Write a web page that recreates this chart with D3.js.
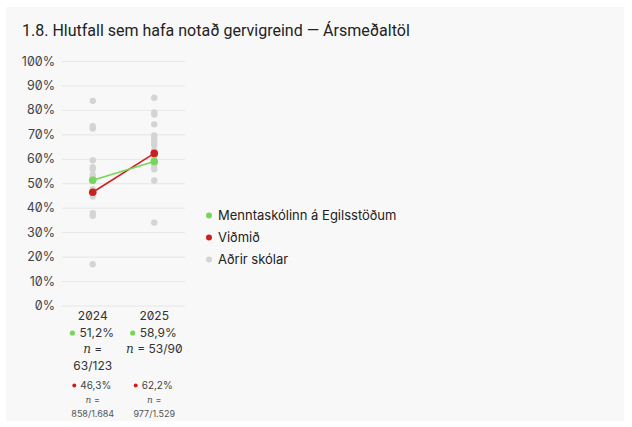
<!DOCTYPE html>
<html>
<head>
<meta charset="utf-8">
<script src="https://cdn.jsdelivr.net/npm/d3@7"></script>
<style>
  body { margin: 0; background: #fff; }
  svg { font-family: Inter, "Noto Sans", sans-serif; font-variant-numeric: slashed-zero; font-feature-settings: "zero" 1; }
</style>
</head>
<body>
<svg id="chart" width="632" height="427"></svg>
<script>
const years = ["2024", "2025"];
const schoolValues = [51.2, 58.9];
const benchmarkValues = [46.3, 62.2];
const schoolN = ["63/123", "53/90"];
const benchmarkN = ["858/1.684", "977/1.529"];
const otherSchools = [
    [83.7, 73.3, 72.4, 59.4, 56.6, 55.7, 53.4, 52.2, 47.6, 44.6, 37.8, 36.7, 16.9],
    [85.0, 79.0, 78.1, 74.1, 69.5, 68.4, 67.0, 65.7, 63.6, 60.9, 57.1, 55.7, 51.1, 33.9]
];
const yTicks = [0, 10, 20, 30, 40, 50, 60, 70, 80, 90, 100];
const legendLabels = ["Menntaskólinn á Egilsstöðum", "Viðmið", "Aðrir skólar"];

const green = "#74d65a";
const red = "#cc2020";
const grey = "#d4d4d4";

const svg = d3.select("#chart");
const width = +svg.attr("width");
const height = +svg.attr("height");

svg.append("rect")
    .attr("x", 6).attr("y", 7)
    .attr("width", 618).attr("height", 414)
    .attr("fill", "#f8f8f8");

svg.append("text")
    .attr("x", 22).attr("y", 36)
    .attr("fill", "#222")
    .style("font-family", "Roboto, sans-serif")
    .style("font-size", "16px")
    .text("1.8. Hlutfall sem hafa notað gervigreind — Ársmeðaltöl");

const x = d3.scalePoint().domain(years).range([62, 185]).padding(0.5);
const y = d3.scaleLinear().domain([0, 100]).range([305.5, 61]);

// grid + y labels
const yAxis = svg.append("g")
    .attr("transform", "translate(62,0)")
    .call(d3.axisLeft(y).tickValues(yTicks).tickSize(-123).tickFormat(d => d + "%"));
yAxis.select(".domain").remove();
yAxis.selectAll(".tick line").attr("stroke", "#e6e6e6");
yAxis.selectAll(".tick text")
    .attr("x", -7)
    .attr("fill", "#444")
    .style("font-size", "12.5px")
    .style("font-family", "Inter, sans-serif");

// other schools
years.forEach((yr, i) => {
    svg.append("g").selectAll("circle")
        .data(otherSchools[i])
        .join("circle")
        .attr("cx", x(yr))
        .attr("cy", d => y(d))
        .attr("r", 3.2)
        .attr("fill", grey);
});

const line = d3.line().x((d, i) => x(years[i])).y(d => y(d));

function drawSeries(values, color) {
    svg.append("path")
        .datum(values)
        .attr("d", line)
        .attr("fill", "none")
        .attr("stroke", color)
        .attr("stroke-width", 1.6);
    svg.append("g").selectAll("circle")
        .data(values)
        .join("circle")
        .attr("cx", (d, i) => x(years[i]))
        .attr("cy", d => y(d))
        .attr("r", 3.8)
        .attr("fill", color);
}
drawSeries(benchmarkValues, red);
drawSeries(schoolValues, green);

// table under the axis
const fmt = v => d3.format(".1f")(v).replace(".", ",") + "%";

function nLines(label, maxWidth, size) {
    const probe = svg.append("text").style("font-size", size + "px").text("n = " + label);
    const w = probe.node().getComputedTextLength();
    probe.remove();
    return w > maxWidth ? [["n", " ="], ["", label]] : [["n", " = " + label]];
}

function addLine(cx, yPos, parts, size, color) {
    const t = svg.append("text")
        .attr("x", cx).attr("y", yPos)
        .attr("text-anchor", "middle")
        .attr("fill", color)
        .style("font-size", size + "px");
    if (parts[0]) {
        t.append("tspan")
            .style("font-family", "'DejaVu Serif', serif")
            .style("font-style", "italic")
            .text(parts[0]);
    }
    t.append("tspan").text(parts[1]);
}

years.forEach((yr, i) => {
    const cx = x(yr);
    svg.append("text")
        .attr("x", cx).attr("y", 320)
        .attr("text-anchor", "middle")
        .attr("fill", "#333")
        .style("font-size", "12px")
        .text(yr);

    const g1 = svg.append("text")
        .attr("x", cx + 4).attr("y", 337)
        .attr("text-anchor", "middle")
        .attr("fill", "#333")
        .style("font-size", "12px")
        .text(fmt(schoolValues[i]));
    const w1 = g1.node().getComputedTextLength();
    svg.append("circle")
        .attr("cx", cx + 4 - w1 / 2 - 7).attr("cy", 333)
        .attr("r", 2.6).attr("fill", green);

    nLines(schoolN[i], 58, 12).forEach((p, k) => {
        addLine(cx, 353 + k * 17, p, 12, "#333");
    });

    const r1 = svg.append("text")
        .attr("x", cx + 3).attr("y", 389)
        .attr("text-anchor", "middle")
        .attr("fill", "#444")
        .style("font-size", "10px")
        .text(fmt(benchmarkValues[i]));
    const w2 = r1.node().getComputedTextLength();
    svg.append("circle")
        .attr("cx", cx + 3 - w2 / 2 - 6).attr("cy", 385.5)
        .attr("r", 2).attr("fill", red);

    addLine(cx, 402.5, ["n", " ="], 9, "#555");
    addLine(cx, 417, ["", benchmarkN[i]], 9, "#555");
});

// legend
const legendColors = [green, red, grey];
const legend = svg.append("g").selectAll("g")
    .data(legendLabels)
    .join("g")
    .attr("transform", (d, i) => `translate(209,${215.5 + i * 22})`);
legend.append("circle")
    .attr("r", 3)
    .attr("fill", (d, i) => legendColors[i]);
legend.append("text")
    .attr("x", 9).attr("y", 4.5)
    .attr("fill", "#222")
    .style("font-size", "13px")
    .text(d => d);
</script>
</body>
</html>
